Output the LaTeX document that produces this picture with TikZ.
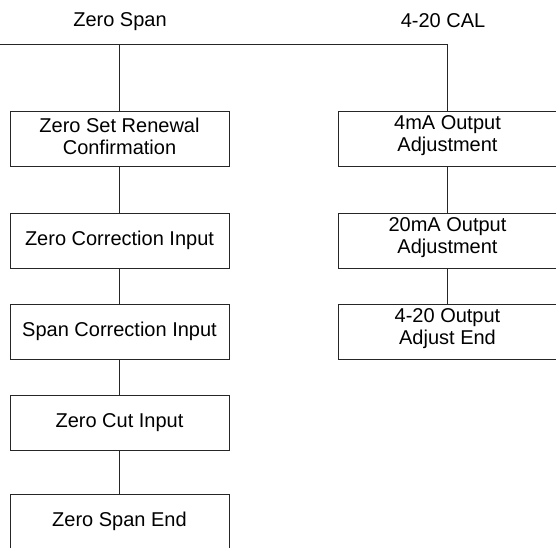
\documentclass[tikz,border=0pt]{standalone}
\usepackage{fontspec}
\setmainfont{Liberation Sans}
\begin{document}
\begin{tikzpicture}[x=1pt,y=-1pt,
  box/.style={draw=black!85,line width=1pt,minimum width=219pt,minimum height=55pt,inner sep=0pt,align=center,font=\fontsize{20}{22.5}\selectfont},
  lbl/.style={font=\fontsize{20}{22.5}\selectfont,inner sep=0pt,align=center},
  conn/.style={draw=black!85,line width=1pt}]
\useasboundingbox (0,0) rectangle (556,547);
\clip (0,0) rectangle (556,547);
\node[lbl] (zs) at (120,21.5) {Zero Span};
\node[lbl] (cal) at (443,20.5) {4-20 CAL};
\node[box] (b1) at (119.5,138.5) {};
\node[lbl] (b1t) at ([yshift=2pt]b1.center) {Zero Set Renewal\\Confirmation};
\node[box] (b2) at (119.5,240.5) {Zero Correction Input};
\node[box] (b3) at (119.5,331.5) {Span Correction Input};
\node[box] (b4) at (119.5,422.5) {Zero Cut Input};
\node[box] (b5) at (119.5,521.5) {Zero Span End};
\node[box] (r1) at (447.5,138.5) {};
\node[lbl] (r1t) at ([yshift=3pt]r1.center) {4mA Output\\Adjustment};
\node[box] (r2) at (447.5,240.5) {};
\node[lbl] (r2t) at ([yshift=3pt]r2.center) {20mA Output\\Adjustment};
\node[box] (r3) at (447.5,331.5) {};
\node[lbl] (r3t) at ([yshift=3pt]r3.center) {4-20 Output\\Adjust End};
\coordinate (L) at (-1,44);
\coordinate (J) at (119.5,44);
\draw[conn] (L) -| (r1.north);
\draw[conn] (J) -- (b1.north);
\draw[conn] (b1) -- (b2);
\draw[conn] (b2) -- (b3);
\draw[conn] (b3) -- (b4);
\draw[conn] (b4) -- (b5);
\draw[conn] (r1) -- (r2);
\draw[conn] (r2) -- (r3);
\end{tikzpicture}
\end{document}
